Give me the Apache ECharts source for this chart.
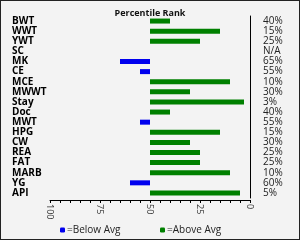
<!DOCTYPE html>
<html>
<head>
<meta charset="utf-8">
<script src="https://cdn.jsdelivr.net/npm/echarts@6/dist/echarts.min.js"></script>
<style>
    html, body { margin: 0; padding: 0; }
    #chart { width: 298px; height: 238px; border: 1px solid #222; background: #f3f3f3; }
</style>
</head>
<body>
<div id="chart"></div>
<script>
// percentile rank per measure, null = N/A
var measures = ['BWT', 'WWT', 'YWT', 'SC', 'MK', 'CE', 'MCE', 'MWWT', 'Stay', 'Doc',
    'MWT', 'HPG', 'CW', 'REA', 'FAT', 'MARB', 'YG', 'API'];
var ranks = [40, 15, 25, null, 65, 55, 10, 30, 3, 40, 55, 15, 30, 25, 25, 10, 60, 5];
var avg = 50;
var axisTicks = [0, 25, 50, 75, 100];

var rankLabels = [];
var base = [], below = [], above = [];
for (var i = 0; i < ranks.length; i++) {
    var v = ranks[i];
    rankLabels.push(v == null ? 'N/A' : v + '%');
    if (v == null) {
        base.push('-'); below.push('-'); above.push('-');
    } else if (v > avg) {
        base.push(avg); below.push(v - avg); above.push(0);
    } else {
        base.push(v); below.push(0); above.push(avg - v);
    }
}

var chart = echarts.init(document.getElementById('chart'));
var option = {
    animation: false,
    title: {
        text: 'Percentile Rank',
        left: 'center',
        top: 3,
        textStyle: { fontSize: 9, fontWeight: 'bold', color: '#111', fontFamily: 'Open Sans' }
    },
    legend: [{
        data: ['=Below Avg'],
        left: 54, top: 219,
        itemWidth: 5, itemHeight: 5, itemGap: 2,
        textStyle: { fontSize: 10, color: '#222', fontFamily: 'Open Sans', padding: [0, 0, 0, -3] }
    }, {
        data: ['=Above Avg'],
        left: 154, top: 219,
        itemWidth: 5, itemHeight: 5, itemGap: 2,
        textStyle: { fontSize: 10, color: '#222', fontFamily: 'Open Sans', padding: [0, 0, 0, -3] }
    }],
    grid: { left: 49, right: 49, top: 15, bottom: 41 },
    xAxis: {
        type: 'value',
        min: axisTicks[0],
        max: axisTicks[axisTicks.length - 1],
        interval: 25,
        inverse: true,
        offset: 2,
        splitLine: { show: false },
        axisLine: { show: true, lineStyle: { color: '#000' } },
        axisTick: { show: true, length: 3, lineStyle: { color: '#000' } },
        minorTick: { show: true, splitNumber: 5, length: 3, lineStyle: { color: '#000' } },
        axisLabel: { rotate: -90, fontSize: 9, color: '#333', margin: 4, fontFamily: 'Open Sans' }
    },
    yAxis: [{
        type: 'category',
        data: measures,
        inverse: true,
        axisLine: { show: true, lineStyle: { color: '#000' } },
        axisTick: { show: false },
        axisLabel: {
            align: 'left', margin: 38, fontSize: 10, fontWeight: 'bold',
            color: '#000', fontFamily: 'Open Sans', interval: 0
        }
    }, {
        type: 'category',
        data: rankLabels,
        inverse: true,
        position: 'right',
        axisLine: { show: false },
        axisTick: { show: false },
        axisLabel: { align: 'left', margin: 13, fontSize: 10, color: '#222', fontFamily: 'Open Sans', interval: 0 }
    }],
    series: [{
        type: 'bar', stack: 'r', barWidth: 5, silent: true,
        itemStyle: { color: 'transparent' },
        data: base
    }, {
        name: '=Below Avg', type: 'bar', stack: 'r', barWidth: 5,
        itemStyle: { color: '#0000ee' },
        data: below
    }, {
        name: '=Above Avg', type: 'bar', stack: 'r', barWidth: 5,
        itemStyle: { color: '#008000' },
        data: above
    }]
};
chart.setOption(option);
</script>
</body>
</html>
